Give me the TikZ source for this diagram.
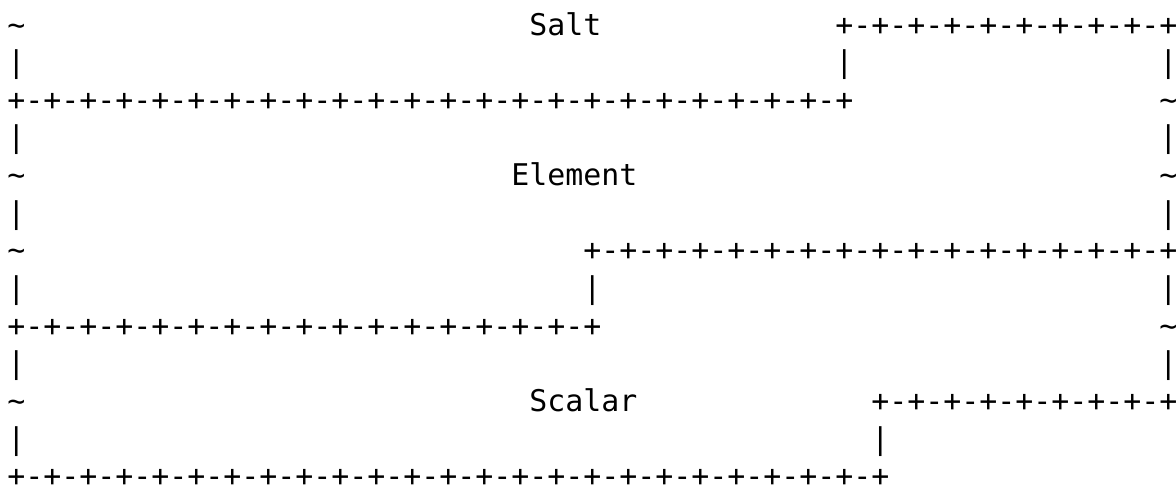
\documentclass[tikz,border=0pt]{standalone}
\usepackage{fontspec}
\newfontfamily\asciifont{DejaVu Sans Mono}
\usepackage{tikz}
\tikzstyle{ascii} = [anchor=base west,inner sep=0pt,font=\asciifont\fontsize{14.95pt}{18pt}\selectfont]
\tikzstyle{field} = [ascii]

\begin{document}
\begin{tikzpicture}[x=9pt,y=-18.82pt]
				\useasboundingbox (0,0) rectangle (65.333,12.885);
				% row 1
				\node (t1) [ascii] at (0.389,0.93) {\textasciitilde};
				\node (salt) [field] at (29.389,0.93) {Salt};
				\node (saltb) [ascii] at (46.389,0.93) {+-+-+-+-+-+-+-+-+-+};
				% row 2
				\node (v2a) [ascii] at (0.389,1.93) {|};
				\node (v2b) [ascii] at (46.389,1.93) {|};
				\node (v2c) [ascii] at (64.389,1.93) {|};
				% row 3
				\node (salte) [ascii] at (0.389,2.93) {+-+-+-+-+-+-+-+-+-+-+-+-+-+-+-+-+-+-+-+-+-+-+-+};
				\node (t3) [ascii] at (64.389,2.93) {\textasciitilde};
				% row 4
				\node (v4a) [ascii] at (0.389,3.93) {|};
				\node (v4b) [ascii] at (64.389,3.93) {|};
				% row 5
				\node (t5a) [ascii] at (0.389,4.93) {\textasciitilde};
				\node (elem) [field] at (28.389,4.93) {Element};
				\node (t5b) [ascii] at (64.389,4.93) {\textasciitilde};
				% row 6
				\node (v6a) [ascii] at (0.389,5.93) {|};
				\node (v6b) [ascii] at (64.389,5.93) {|};
				% row 7
				\node (t7) [ascii] at (0.389,6.93) {\textasciitilde};
				\node (elemb) [ascii] at (32.389,6.93) {+-+-+-+-+-+-+-+-+-+-+-+-+-+-+-+-+};
				% row 8
				\node (v8a) [ascii] at (0.389,7.93) {|};
				\node (v8b) [ascii] at (32.389,7.93) {|};
				\node (v8c) [ascii] at (64.389,7.93) {|};
				% row 9
				\node (eleme) [ascii] at (0.389,8.93) {+-+-+-+-+-+-+-+-+-+-+-+-+-+-+-+-+};
				\node (t9) [ascii] at (64.389,8.93) {\textasciitilde};
				% row 10
				\node (v10a) [ascii] at (0.389,9.93) {|};
				\node (v10b) [ascii] at (64.389,9.93) {|};
				% row 11
				\node (t11) [ascii] at (0.389,10.93) {\textasciitilde};
				\node (scalar) [field] at (29.389,10.93) {Scalar};
				\node (scalarb) [ascii] at (48.389,10.93) {+-+-+-+-+-+-+-+-+};
				% row 12
				\node (v12a) [ascii] at (0.389,11.93) {|};
				\node (v12b) [ascii] at (48.389,11.93) {|};
				% row 13
				\node (scalare) [ascii] at (0.389,12.93) {+-+-+-+-+-+-+-+-+-+-+-+-+-+-+-+-+-+-+-+-+-+-+-+-+};
			\end{tikzpicture}
\end{document}
